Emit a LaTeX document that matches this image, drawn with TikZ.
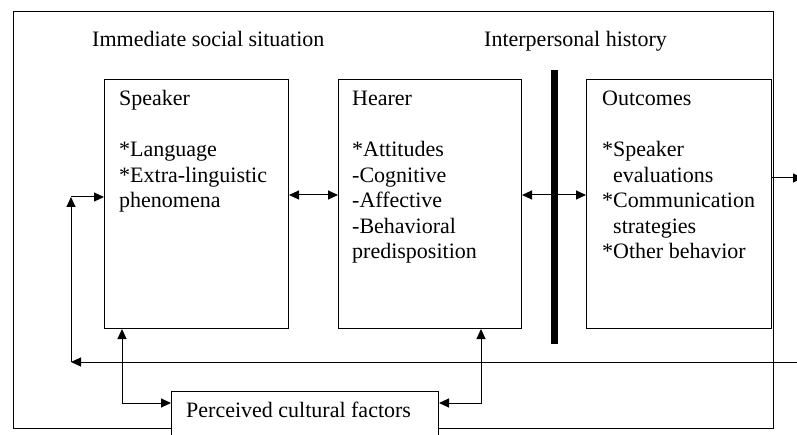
\documentclass[tikz,border=0pt]{standalone}
\usepackage{fontspec}
\setmainfont{Liberation Serif}
\usetikzlibrary{arrows.meta,calc}
\begin{document}
\begin{tikzpicture}[x=1pt,y=-1pt,
  box/.style={draw,line width=1pt,inner sep=0pt,anchor=north west},
  lbl/.style={anchor=base west,inner sep=0pt,align=left,font=\fontsize{22}{25.5}\selectfont},
  tri/.tip={Triangle[length=10pt,width=9pt]},
  conn/.style={line width=1pt}]
\useasboundingbox (0,0) rectangle (797,435);
% frame
\node[box,minimum width=760pt,minimum height=417pt] (frame) at (13,11) {};
% boxes
\node[box,minimum width=184pt,minimum height=249pt] (spk) at (104,79) {};
\node[box,minimum width=183pt,minimum height=249pt] (hear) at (338,79) {};
\node[box,minimum width=185pt,minimum height=249pt] (out) at (586,79) {};
\node[box,fill=white,minimum width=267pt,minimum height=54pt] (cult) at (171,391) {};
% titles (multi-line labels are anchored at the baseline of their last line)
\node[lbl] (t1) at (92,47) {Immediate social situation};
\node[lbl] (t2) at (484,47) {Interpersonal history};
\node[lbl] (spktext) at (119,208) {Speaker\\[25.5pt]{}*Language\\{}*Extra-linguistic\\phenomena};
\node[lbl] (heartext) at (352,259) {Hearer\\[25.5pt]{}*Attitudes\\-Cognitive\\-Affective\\-Behavioral\\predisposition};
\node[lbl] (outtext) at (602,259) {Outcomes\\[25.5pt]{}*Speaker\\\phantom{*}evaluations\\{}*Communication\\\phantom{*}strategies\\{}*Other behavior};
\node[lbl] (culttext) at (186,417) {Perceived cultural factors};
% thick bar
\coordinate (barT) at (554,70);
\coordinate (barB) at (554,344);
\draw[line width=7pt] (barT) -- (barB);
% horizontal links
\coordinate (r1) at (0,195);
\coordinate (r2) at (0,178);
\coordinate (outR) at (803,178);
\draw[conn,{tri}-{tri}] (spk.east |- r1) -- (hear.west |- r1);
\draw[conn,{tri}-{tri}] (hear.east |- r1) -- (out.west |- r1);
\draw[conn,-{tri}] (out.east |- r2) -- (outR);
% feedback
\coordinate (fbR) at (800,362);
\coordinate (fbL) at (71,362);
\coordinate (fbT) at (71,197);
\draw[conn,-{tri}] (fbR) -- (fbL);
\draw[conn,-{tri}] (fbL) -- (fbT);
\draw[conn,-{tri}] (fbT) -- (spk.west |- fbT);
% cultural links
\coordinate (c1) at (122,403);
\coordinate (c2) at (481,403);
\draw[conn,{tri}-{tri}] (spk.south -| c1) -- (c1) -- (cult.west |- c1);
\draw[conn,{tri}-{tri}] (hear.south -| c2) -- (c2) -- (cult.east |- c2);
\end{tikzpicture}
\end{document}
